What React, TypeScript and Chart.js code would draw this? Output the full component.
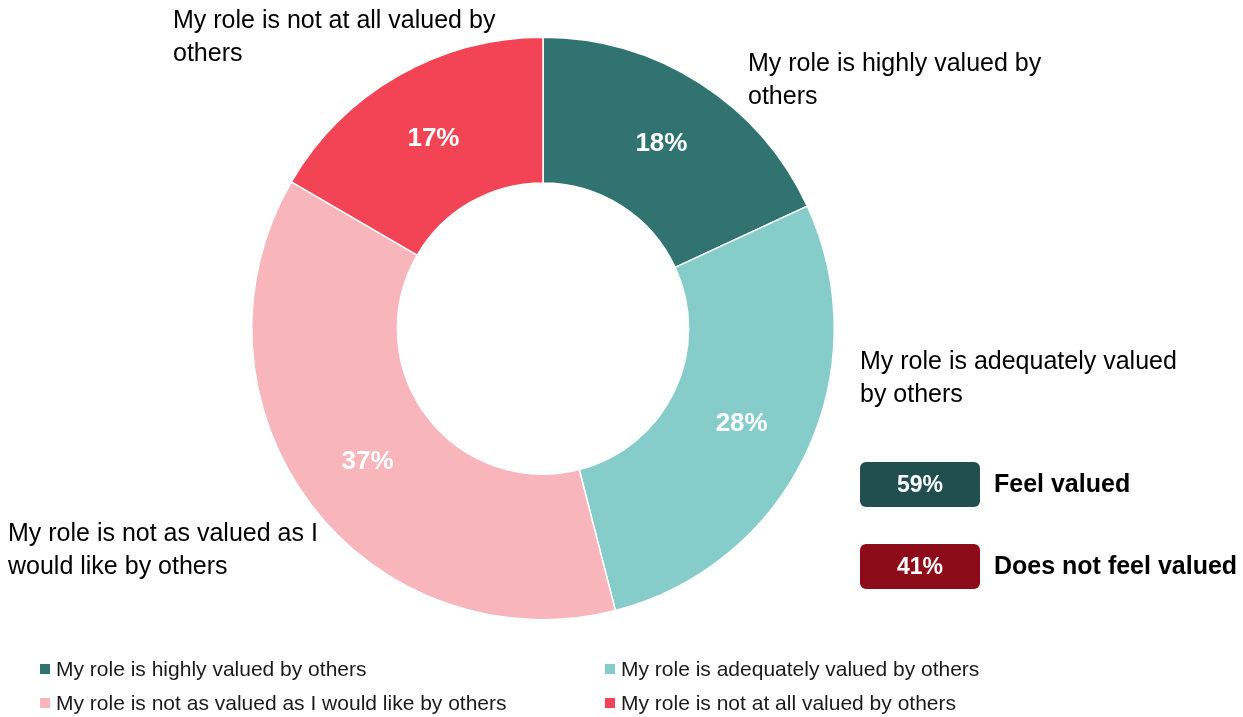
import React, { useEffect, useRef } from "react";
import { Chart, registerables } from "chart.js";

Chart.register(...registerables);

const categories = [
  "My role is highly valued by others",
  "My role is adequately valued by others",
  "My role is not as valued as I would like by others",
  "My role is not at all valued by others",
];
const values = [18.1, 27.9, 37.4, 16.6];
const sliceColors = ["#317371", "#85CCCB", "#F8B5BC", "#F24455"];
const outerLabelLines = [
  ["My role is highly valued by", "others"],
  ["My role is adequately valued", "by others"],
  ["My role is not as valued as I", "would like by others"],
  ["My role is not at all valued by", "others"],
];
const summaryLabels = ["Feel valued", "Does not feel valued"];
const summaryValues = [59, 41];
const summaryColors = ["#214F50", "#8E0C1A"];

const FONT = "'Liberation Sans', Arial, sans-serif";

// text anchor positions (layout only)
const outerLabelPos = [
  { x: 748, y: 64 },
  { x: 860, y: 362 },
  { x: 8, y: 534 },
  { x: 173, y: 21 },
];

const annotPlugin = {
  id: "annot",
  afterDatasetsDraw(chart: any) {
    const ctx = chart.ctx as CanvasRenderingContext2D;
    const meta = chart.getDatasetMeta(0);
    ctx.save();
    // inner percentage labels
    ctx.fillStyle = "#ffffff";
    ctx.font = `bold 26px ${FONT}`;
    ctx.textAlign = "center";
    ctx.textBaseline = "middle";
    meta.data.forEach((arc: any, i: number) => {
      const { x, y, startAngle, endAngle, outerRadius } = arc.getProps(
        ["x", "y", "startAngle", "endAngle", "outerRadius"],
        true
      );
      const mid = (startAngle + endAngle) / 2;
      const r = outerRadius * 0.755;
      ctx.fillText(`${Math.round(values[i])}%`, x + Math.cos(mid) * r, y + Math.sin(mid) * r + 1);
    });
    // outer labels
    ctx.fillStyle = "#000000";
    ctx.font = `25px ${FONT}`;
    ctx.textAlign = "left";
    outerLabelLines.forEach((lines, i) => {
      lines.forEach((ln, j) => {
        ctx.fillText(ln, outerLabelPos[i].x, outerLabelPos[i].y + j * 33);
      });
    });
    // summary badges
    summaryValues.forEach((v, i) => {
      const bx = 860;
      const by = 462 + i * 82;
      const bw = 120;
      const bh = 45;
      ctx.fillStyle = summaryColors[i];
      ctx.beginPath();
      (ctx as any).roundRect(bx, by, bw, bh, 6);
      ctx.fill();
      ctx.fillStyle = "#ffffff";
      ctx.font = `bold 23px ${FONT}`;
      ctx.textAlign = "center";
      ctx.fillText(`${v}%`, bx + bw / 2, by + bh / 2 + 1);
      ctx.fillStyle = "#000000";
      ctx.font = `bold 25px ${FONT}`;
      ctx.textAlign = "left";
      ctx.fillText(summaryLabels[i], 994, by + bh / 2 + 1);
    });
    // legend
    ctx.font = `21px ${FONT}`;
    categories.forEach((c, i) => {
      const col = i % 2;
      const row = Math.floor(i / 2);
      const sx = col === 0 ? 40 : 605;
      const ty = 669 + row * 34;
      ctx.fillStyle = sliceColors[i];
      ctx.fillRect(sx, ty - 5, 10, 10);
      ctx.fillStyle = "#1a1a1a";
      ctx.textAlign = "left";
      ctx.fillText(c, sx + 16, ty + 1);
    });
    ctx.restore();
  },
};

export default function App() {
  const ref = useRef<HTMLCanvasElement>(null);
  useEffect(() => {
    if (!ref.current) return;
    const chart = new Chart(ref.current, {
      type: "doughnut",
      data: {
        labels: categories,
        datasets: [
          {
            data: values,
            backgroundColor: sliceColors,
            borderColor: "#ffffff",
            borderWidth: 1.5,
          },
        ],
      },
      options: {
        animation: false,
        responsive: false,
        maintainAspectRatio: false,
        cutout: "50%",
        layout: { padding: { left: 251, right: 408, top: 36, bottom: 96 } },
        plugins: {
          legend: { display: false },
          tooltip: { enabled: false },
        },
      },
      plugins: [annotPlugin],
    });
    return () => chart.destroy();
  }, []);
  return (
    <div style={{ position: "fixed", left: 0, top: 0, width: 1243, height: 717, background: "#fff" }}>
      <canvas ref={ref} width={1243} height={717} style={{ width: 1243, height: 717 }} />
    </div>
  );
}
